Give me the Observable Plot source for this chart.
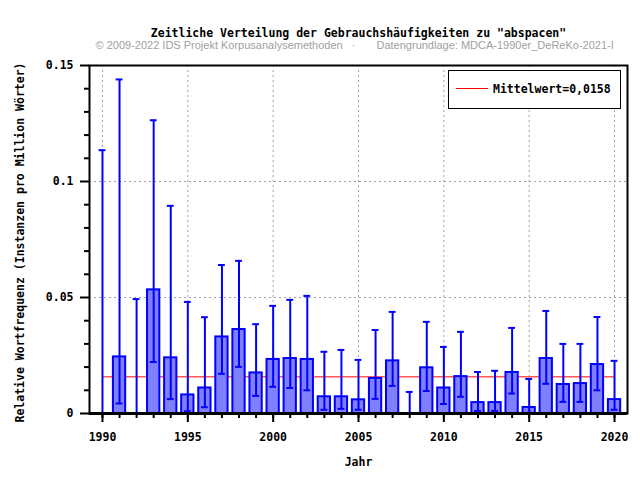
<!DOCTYPE html>
<html><head><meta charset="utf-8">
<script src="https://cdn.jsdelivr.net/npm/d3@7"></script>
<script src="https://cdn.jsdelivr.net/npm/@observablehq/plot@0.6"></script>
<style>html,body{margin:0;padding:0;background:#fff} #chart svg{display:block}</style>
</head><body><div id="chart"></div>
<script>
const years = [1990,1991,1992,1993,1994,1995,1996,1997,1998,1999,2000,2001,2002,2003,2004,2005,2006,2007,2008,2009,2010,2011,2012,2013,2014,2015,2016,2017,2018,2019,2020];
const freq  = [0,0.0244,0,0.0533,0.0240,0.0080,0.0110,0.0330,0.0362,0.0175,0.0233,0.0237,0.0233,0.0072,0.0072,0.0059,0.0151,0.0227,0,0.0197,0.0110,0.0159,0.0047,0.0047,0.0177,0.0026,0.0237,0.0125,0.0129,0.0211,0.0060];
const upper = [0.1135,0.1440,0.0493,0.1264,0.0895,0.0481,0.0415,0.0640,0.0658,0.0385,0.0464,0.0490,0.0507,0.0266,0.0274,0.0231,0.0360,0.0438,0.0093,0.0395,0.0287,0.0352,0.0179,0.0184,0.0369,0.0149,0.0442,0.0300,0.0300,0.0416,0.0227];
const lower = [0,0.0043,0,0.0222,0.0062,0.0010,0.0027,0.0171,0.0201,0.0076,0.0115,0.0110,0.0100,0.0016,0.0020,0.0016,0.0063,0.0119,0,0.0097,0.0041,0.0072,0.0011,0.0011,0.0086,0.0003,0.0128,0.0050,0.0050,0.0100,0.0016];
const meanValue = 0.0158;
const yMajorTicks = [0, 0.05, 0.1, 0.15];
const yTickLabels = ["0", "0.05", "0.1", "0.15"];
const yMinorTicks = [0.01,0.02,0.03,0.04,0.06,0.07,0.08,0.09,0.11,0.12,0.13,0.14];
const xMajorTicks = [1990, 1995, 2000, 2005, 2010, 2015, 2020];
const yGridTicks = [0.05, 0.1];
const titleText = "Zeitliche Verteilung der Gebrauchshäufigkeiten zu \"abspacen\"";
const creditLeft = "© 2009-2022 IDS Projekt Korpusanalysemethoden";
const creditDot = "·";
const creditRight = "Datengrundlage: MDCA-1990er_DeReKo-2021-I";
const xLabel = "Jahr";
const yLabel = "Relative Wortfrequenz (Instanzen pro Million Wörter)";
const legendLabel = "Mittelwert=" + meanValue.toFixed(4).replace(".", ",");

const data = years.map((year, i) => ({year, freq: freq[i], hi: upper[i], lo: lower[i]}));
const mono = "'DejaVu Sans Mono', monospace";
const blue = "#0000ff";
const gridStyle = {stroke: "#a0a0a0", strokeDasharray: "2,3", strokeWidth: 1};
const creditFont = {fill: "#a0a0a0", fontFamily: "'Liberation Sans', Arial, sans-serif", fontWeight: "normal", fontSize: 11};

function legendMark(index, scales, values, dim) {
  const right = dim.width - dim.marginRight;
  const top = dim.marginTop;
  const g = d3.create("svg:g")
    .attr("font-family", mono).attr("font-weight", "bold").attr("font-size", "11.5px");
  g.append("rect").attr("x", right - 178.5).attr("y", top + 5.5)
    .attr("width", 172).attr("height", 38).attr("fill", "white").attr("stroke", "black");
  g.append("line").attr("x1", right - 171).attr("x2", right - 139)
    .attr("y1", top + 23.5).attr("y2", top + 23.5).attr("stroke", "red");
  g.append("text").attr("x", right - 134).attr("y", top + 24)
    .attr("text-anchor", "start")
    .attr("dominant-baseline", "central").attr("fill", "black").text(legendLabel);
  return g.node();
}

const plot = Plot.plot({
  width: 640, height: 480,
  marginLeft: 89, marginRight: 13, marginTop: 65, marginBottom: 67,
  style: {fontFamily: mono, fontSize: "11.5px", fontWeight: "bold", background: "white", color: "black", overflow: "visible"},
  x: {type: "linear", domain: [1989.24, 2020.76]},
  y: {domain: [0, 0.15]},
  marks: [
    Plot.ruleX(xMajorTicks, gridStyle),
    Plot.ruleY(yGridTicks, gridStyle),
    Plot.ruleY([meanValue], {x1: years[0], x2: years[years.length - 1], stroke: "red", strokeWidth: 1}),
    Plot.rectY(data.filter(d => d.freq > 0), {x1: d => d.year - 0.36, x2: d => d.year + 0.36, y1: 0, y2: "freq", fill: "#8080ff", stroke: blue, strokeWidth: 2}),
    Plot.ruleX(data, {x: "year", y1: "lo", y2: "hi", stroke: blue, strokeWidth: 2}),
    Plot.ruleY(data, {y: "hi", x1: d => d.year - 0.2, x2: d => d.year + 0.2, stroke: blue, strokeWidth: 2}),
    Plot.ruleY(data, {y: "lo", x1: d => d.year - 0.2, x2: d => d.year + 0.2, stroke: blue, strokeWidth: 2}),
    Plot.frame({stroke: "black", strokeWidth: 2}),
    Plot.ruleY([0], {stroke: "black", strokeWidth: 3}),
    Plot.axisY(yMajorTicks, {tickSize: 9, tickPadding: 7, strokeWidth: 2, tickFormat: d => yTickLabels[yMajorTicks.indexOf(d)], label: null}),
    Plot.axisY(yMinorTicks, {tickSize: 5, strokeWidth: 2, fill: "none", label: null}),
    Plot.axisX(xMajorTicks, {tickSize: 9, tickPadding: 10, strokeWidth: 2, tickFormat: d => String(d), label: null}),
    Plot.axisX(years, {tickSize: 5, strokeWidth: 2, fill: "none", label: null}),
    Plot.text([xLabel], {frameAnchor: "bottom", dy: 49, lineAnchor: "middle", fill: "black"}),
    Plot.text([yLabel], {frameAnchor: "left", dx: -69, dy: 3, rotate: -90, textAnchor: "middle", lineAnchor: "middle", fill: "black"}),
    Plot.text([titleText], {frameAnchor: "top", dy: -32, lineAnchor: "middle", fill: "black"}),
    Plot.text([creditLeft], {frameAnchor: "top-left", dx: 6, dy: -20, lineAnchor: "middle", textAnchor: "start", ...creditFont}),
    Plot.text([creditDot], {frameAnchor: "top-left", dx: 264, dy: -20, lineAnchor: "middle", textAnchor: "middle", ...creditFont}),
    Plot.text([creditRight], {frameAnchor: "top-left", dx: 287, dy: -20, lineAnchor: "middle", textAnchor: "start", ...creditFont}),
    legendMark
  ]
});
document.getElementById("chart").appendChild(plot);
</script>
</body></html>
